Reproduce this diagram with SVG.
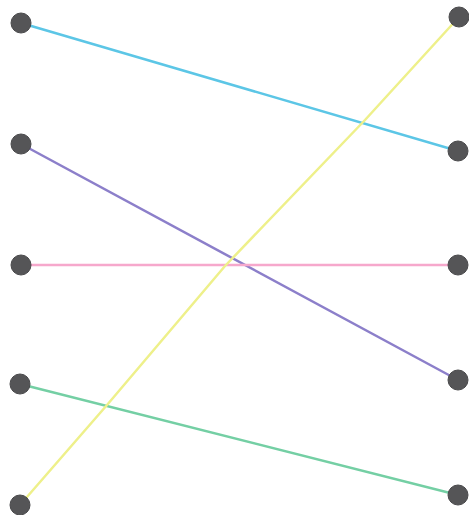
<svg xmlns="http://www.w3.org/2000/svg" width="469" height="515" viewBox="0 0 469 515">
<style>
.node circle{fill:#555557;stroke:#4a4a4c;stroke-width:1}
.edge{fill:none;stroke-width:2.5;stroke-linecap:round;stroke-linejoin:round}
</style>
<rect width="469" height="515" fill="#ffffff"/>
<g id="connectors">
<line class="edge" x1="21" y1="23" x2="458" y2="151" stroke="#5cc6e6"/>
<line class="edge" x1="21" y1="144" x2="458" y2="380" stroke="#8c7fca"/>
<line class="edge" x1="21" y1="265" x2="458" y2="265" stroke="#f6a8cc" stroke-width="3"/>
<line class="edge" x1="20" y1="384" x2="458" y2="495" stroke="#74cfa4"/>
<path class="edge" d="M20,505 L107,405 L225,266 L365,120 L459,17" stroke="#eef08a"/>
</g>
<g id="L1" class="node"><circle cx="21" cy="23" r="10"/></g>
<g id="L2" class="node"><circle cx="21" cy="144" r="10"/></g>
<g id="L3" class="node"><circle cx="21" cy="265" r="10"/></g>
<g id="L4" class="node"><circle cx="20" cy="384" r="10"/></g>
<g id="L5" class="node"><circle cx="20" cy="505" r="10"/></g>
<g id="R1" class="node"><circle cx="459" cy="17" r="10"/></g>
<g id="R2" class="node"><circle cx="458" cy="151" r="10"/></g>
<g id="R3" class="node"><circle cx="458" cy="265" r="10"/></g>
<g id="R4" class="node"><circle cx="458" cy="380" r="10"/></g>
<g id="R5" class="node"><circle cx="458" cy="495" r="10"/></g>
</svg>
